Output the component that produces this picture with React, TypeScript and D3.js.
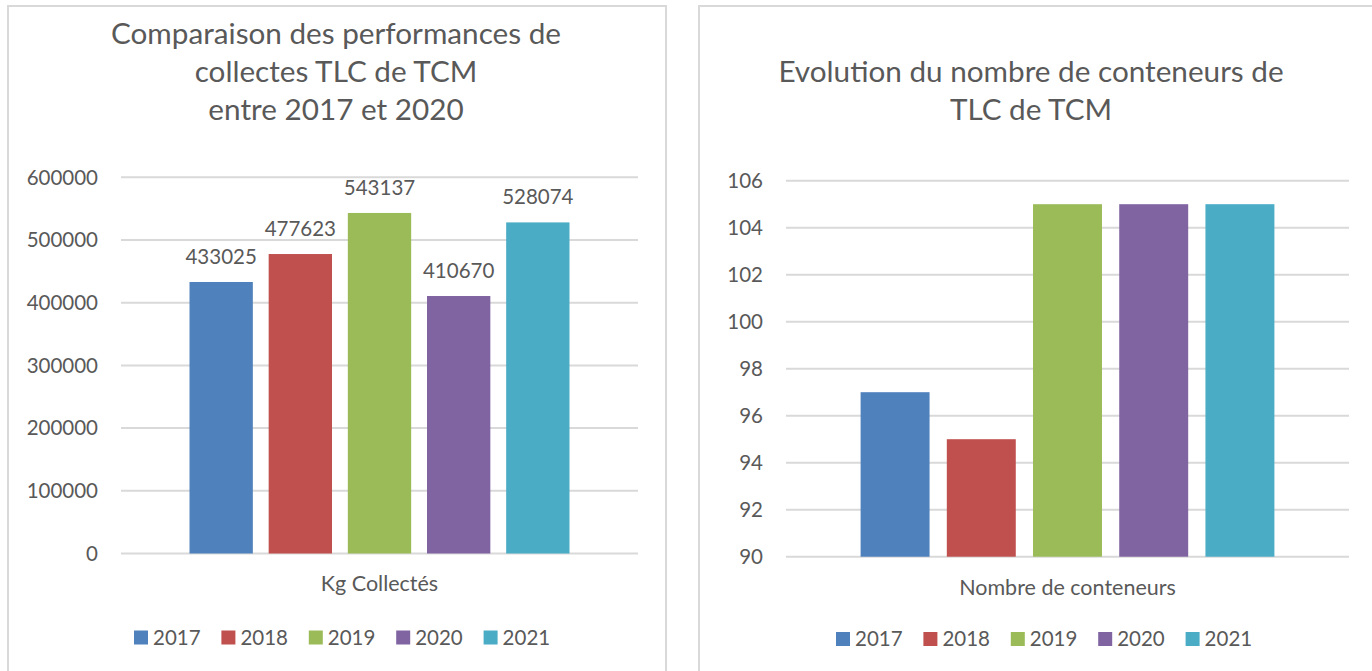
import React from "react";
import * as d3 from "d3";

// data
const years = ["2017", "2018", "2019", "2020", "2021"];
const kgCollectes = [433025, 477623, 543137, 410670, 528074];
const nbConteneurs = [97, 95, 105, 105, 105];
const yearColors = ["#4F81BD", "#C0504D", "#9BBB59", "#8064A2", "#4BACC6"];

const leftTitle = ["Comparaison des performances de", "collectes TLC de TCM", "entre 2017 et 2020"];
const rightTitle = ["Evolution du nombre de conteneurs de", "TLC de TCM"];

const FONT = "Lato, 'Open Sans', sans-serif";
const TEXT = "#595959";
const GRID = "#d9d9d9";

type PanelProps = {
  frame: { x: number; y: number; w: number; h: number };
  plot: { left: number; right: number; top: number; bottom: number };
  domain: [number, number];
  tickCount: number;
  values: number[];
  showLabels: boolean;
  title: string[];
  titleBaselines: number[];
  titleX: number;
  axisTitle: string;
  axisTitleY: number;
  legendX: number;
  legendY: number;
};

const BarPanel = (p: PanelProps) => {
  const y = d3.scaleLinear().domain(p.domain).range([p.plot.bottom, p.plot.top]);
  const ticks = y.ticks(p.tickCount);

  // excel clusters the 5 series inside ~73% of the category width
  const plotW = p.plot.right - p.plot.left;
  const cx = (p.plot.left + p.plot.right) / 2;
  const groupW = plotW * 0.735;
  const x = d3
    .scaleBand<string>()
    .domain(years)
    .range([cx - groupW / 2, cx + groupW / 2])
    .paddingInner(0.2)
    .paddingOuter(0);

  const legendStep = 87.4;

  return (
    <g>
      <rect
        x={p.frame.x}
        y={p.frame.y}
        width={p.frame.w}
        height={p.frame.h}
        fill="#fff"
        stroke={GRID}
        strokeWidth={2}
      />
      {p.title.map((t, i) => (
        <text
          key={i}
          x={p.titleX}
          y={p.titleBaselines[i]}
          textAnchor="middle"
          fontSize={29.7}
          fill={TEXT}
        >
          {t}
        </text>
      ))}
      {ticks.map((t) => (
        <g key={t}>
          <line
            x1={p.plot.left}
            x2={p.plot.right}
            y1={y(t)}
            y2={y(t)}
            stroke={GRID}
            strokeWidth={2}
          />
          <text
            x={p.plot.left - 23}
            y={y(t)}
            dy="0.36em"
            textAnchor="end"
            fontSize={20.5}
            fill={TEXT}
          >
            {t}
          </text>
        </g>
      ))}
      {years.map((yr, i) => (
        <rect
          key={yr}
          x={x(yr)}
          y={y(p.values[i])}
          width={x.bandwidth()}
          height={y(p.domain[0]) - y(p.values[i])}
          fill={yearColors[i]}
        />
      ))}
      {p.showLabels &&
        years.map((yr, i) => (
          <text
            key={yr}
            x={(x(yr) as number) + x.bandwidth() / 2}
            y={y(p.values[i]) - 18}
            textAnchor="middle"
            fontSize={20.5}
            fill={TEXT}
          >
            {p.values[i]}
          </text>
        ))}
      <text x={cx} y={p.axisTitleY} textAnchor="middle" fontSize={21.5} fill={TEXT}>
        {p.axisTitle}
      </text>
      {years.map((yr, i) => (
        <g key={yr} transform={`translate(${p.legendX + i * legendStep},${p.legendY})`}>
          <rect x={0} y={-7} width={14} height={14} fill={yearColors[i]} />
          <text x={19} y={0} dy="0.36em" fontSize={20.5} fill={TEXT}>
            {yr}
          </text>
        </g>
      ))}
    </g>
  );
};

const App = () => {
  return (
    <svg
      width={1372}
      height={671}
      style={{ position: "absolute", left: 0, top: 0, background: "#fff" }}
      fontFamily={FONT}
    >
      <BarPanel
        frame={{ x: 8, y: 6, w: 658, h: 720 }}
        plot={{ left: 121, right: 638, top: 177.3, bottom: 553.5 }}
        domain={[0, 600000]}
        tickCount={6}
        values={kgCollectes}
        showLabels={true}
        title={leftTitle}
        titleBaselines={[44, 82, 120]}
        titleX={336}
        axisTitle="Kg Collectés"
        axisTitleY={591}
        legendX={134}
        legendY={637.5}
      />
      <BarPanel
        frame={{ x: 699, y: 6, w: 720, h: 720 }}
        plot={{ left: 786, right: 1349, top: 180.7, bottom: 556.7 }}
        domain={[90, 106]}
        tickCount={8}
        values={nbConteneurs}
        showLabels={false}
        title={rightTitle}
        titleBaselines={[82, 120]}
        titleX={1031}
        axisTitle="Nombre de conteneurs"
        axisTitleY={595}
        legendX={836}
        legendY={639}
      />
    </svg>
  );
};

export default App;
